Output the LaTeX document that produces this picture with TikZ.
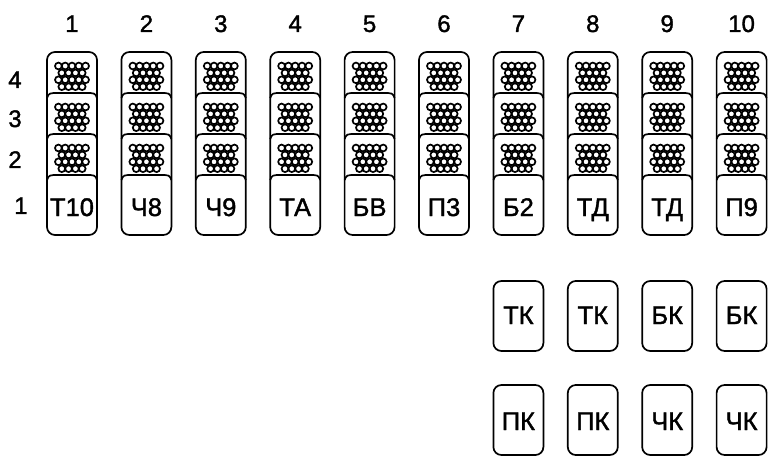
\documentclass[tikz,border=0pt]{standalone}
\usepackage{fontspec}
\setmainfont{Liberation Sans}
\newfontfamily\labfont[FakeBold=1.5]{Liberation Sans}
\tikzset{
  box/.style={draw, line width=1.7, rounded corners=8, minimum width=50, inner sep=0},
  numlab/.style={inner sep=0, anchor=base, font=\labfont\fontsize{24}{24}\selectfont},
  boxlab/.style={inner sep=0, anchor=base, font=\labfont\fontsize{25.5}{25.5}\selectfont},
  sep/.style={line width=1.7},
  meshline/.style={line width=1.7}
}
\newcommand\meshpatch[2]{% #1 = centre x, #2 = card top y
  \foreach \r in {0,2}{\foreach \c in {0,...,4}{
    \draw[meshline] ({#1-13.6+\c*6.8},{#2+14+\r*6.9}) circle (3.4);}}
  \foreach \r in {1,3}{\foreach \c in {0,...,3}{
    \draw[meshline] ({#1-10.2+\c*6.8},{#2+14+\r*6.9}) circle (3.4);}}
}
\newcommand\mycolumn[2]{% #1 index, #2 label
  \pgfmathsetmacro\cx{72+(#1-1)*74.4}
  \node[numlab] (num#1) at (\cx,32) {#1};
  \node[box, minimum height=183] (col#1) at (\cx,143.5) {};
  \foreach \yb in {93,134,175}{
    \draw[sep] (\cx-25,\yb+5) .. controls (\cx-23,\yb) .. (\cx-13,\yb) -- (\cx+13,\yb) .. controls (\cx+23,\yb) .. (\cx+25,\yb+5);
  }
  \meshpatch{\cx}{52}
  \meshpatch{\cx}{93}
  \meshpatch{\cx}{134}
  \node[boxlab] (lab#1) at (\cx,216) {#2};
}
\newcommand\extra[5]{% #1 index, #2 name suffix, #3 centre y, #4 baseline y, #5 label
  \pgfmathsetmacro\cx{72+(#1-1)*74.4}
  \node[box, minimum height=70] (#2#1) at (\cx,#3) {};
  \node[boxlab] (#2lab#1) at (\cx,#4) {#5};
}
\begin{document}
\begin{tikzpicture}[x=1pt,y=-1pt]
\useasboundingbox (0,0) rectangle (768,457);
\node[numlab] (row4) at (15,88) {4};
\node[numlab] (row3) at (15,127) {3};
\node[numlab] (row2) at (15,168) {2};
\node[numlab] (row1) at (21,214) {1};
\mycolumn{1}{Т10}
\mycolumn{2}{Ч8}
\mycolumn{3}{Ч9}
\mycolumn{4}{ТА}
\mycolumn{5}{БВ}
\mycolumn{6}{П3}
\mycolumn{7}{Б2}
\mycolumn{8}{ТД}
\mycolumn{9}{ТД}
\mycolumn{10}{П9}
\extra{7}{up}{316}{324}{ТК}
\extra{8}{up}{316}{324}{ТК}
\extra{9}{up}{316}{324}{БК}
\extra{10}{up}{316}{324}{БК}
\extra{7}{lo}{420}{430}{ПК}
\extra{8}{lo}{420}{430}{ПК}
\extra{9}{lo}{420}{430}{ЧК}
\extra{10}{lo}{420}{430}{ЧК}
\end{tikzpicture}
\end{document}
